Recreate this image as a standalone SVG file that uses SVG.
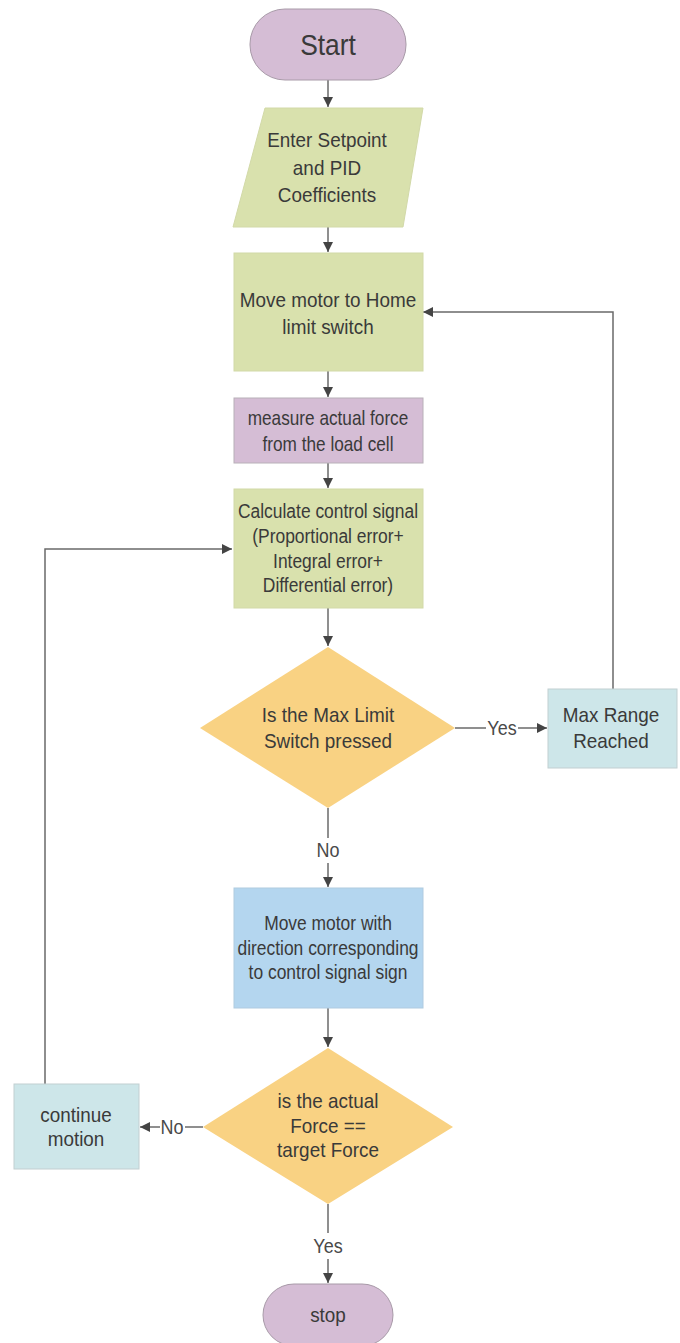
<svg xmlns="http://www.w3.org/2000/svg" width="680" height="1343" viewBox="0 0 680 1343">
  <style>
    .bg { fill: #ffffff; }
    .term { fill: #d5bdd5; stroke: #a89aa8; stroke-width: 1; }
    .proc-g { fill: #d9e1ad; stroke: #d2d9a8; stroke-width: 1; }
    .proc-p { fill: #d5bdd5; stroke: #b8b0b8; stroke-width: 1; }
    .proc-c { fill: #cde6e9; stroke: #c2cfd1; stroke-width: 1; }
    .proc-b { fill: #b4d6ef; stroke: #b0cbe0; stroke-width: 1; }
    .dec { fill: #f9d283; stroke: none; }
    .t { font-family: "Liberation Sans", Arial, sans-serif; font-size: 21px; fill: #3a3a3a; text-anchor: middle; }
    .lbl { font-family: "Liberation Sans", Arial, sans-serif; font-size: 20px; fill: #4a4a4a; text-anchor: middle; }
    .edge { fill: none; stroke: #6a6a6a; stroke-width: 1.5; }
  </style>
  <defs>
    <marker id="arrow" viewBox="0 0 10 10" refX="10" refY="5" markerWidth="10" markerHeight="10" markerUnits="userSpaceOnUse" orient="auto">
      <path d="M0,0 L10,5 L0,10 z" fill="#444444"/>
    </marker>
  </defs>
  <rect class="bg" x="0" y="0" width="680" height="1343"/>

  <!-- connectors -->
  <g id="connectors">
    <path class="edge" d="M328,80 V107" marker-end="url(#arrow)"/>
    <path class="edge" d="M328,227 V252" marker-end="url(#arrow)"/>
    <path class="edge" d="M328,371 V397" marker-end="url(#arrow)"/>
    <path class="edge" d="M328,463 V488" marker-end="url(#arrow)"/>
    <path class="edge" d="M328,608 V646" marker-end="url(#arrow)"/>
    <!-- Yes branch to Max Range -->
    <path class="edge" d="M455,728 H486"/>
    <path class="edge" d="M518,728 H547" marker-end="url(#arrow)"/>
    <!-- Max Range back to Home -->
    <path class="edge" d="M613,689 V312 H423" marker-end="url(#arrow)"/>
    <!-- No branch down -->
    <path class="edge" d="M328,808 V838"/>
    <path class="edge" d="M328,863 V887" marker-end="url(#arrow)"/>
    <path class="edge" d="M328,1008 V1047" marker-end="url(#arrow)"/>
    <!-- No branch to continue motion -->
    <path class="edge" d="M203,1127 H185"/>
    <path class="edge" d="M160,1127 H140" marker-end="url(#arrow)"/>
    <!-- continue motion back to calculate -->
    <path class="edge" d="M45,1084 V549 H232" marker-end="url(#arrow)"/>
    <!-- Yes branch to stop -->
    <path class="edge" d="M328,1204 V1233"/>
    <path class="edge" d="M328,1259 V1283" marker-end="url(#arrow)"/>
    <g transform="translate(502 0) scale(0.9 1)"><text class="lbl" x="0" y="735">Yes</text></g>
    <g transform="translate(328 0) scale(0.9 1)"><text class="lbl" x="0" y="857">No</text></g>
    <g transform="translate(172 0) scale(0.9 1)"><text class="lbl" x="0" y="1134">No</text></g>
    <g transform="translate(328 0) scale(0.9 1)"><text class="lbl" x="0" y="1253">Yes</text></g>
  </g>

  <g id="start">
    <rect class="term" x="250" y="9" width="156" height="71" rx="35" ry="35"/>
    <g transform="translate(328 0) scale(0.88 1)"><text class="t" x="0" y="55" style="font-size:30px">Start</text></g>
  </g>

  <g id="input">
    <polygon class="proc-g" points="265,108 423,108 403,227 233,227"/>
    <g transform="translate(327 0) scale(0.9 1)">
      <text class="t" x="0" y="147">Enter Setpoint</text>
      <text class="t" x="0" y="175">and PID</text>
      <text class="t" x="0" y="202">Coefficients</text>
    </g>
  </g>

  <g id="home">
    <rect class="proc-g" x="234" y="253" width="189" height="118"/>
    <g transform="translate(328 0) scale(0.9 1)">
      <text class="t" x="0" y="307">Move motor to Home</text>
      <text class="t" x="0" y="334">limit switch</text>
    </g>
  </g>

  <g id="measure">
    <rect class="proc-p" x="234" y="398" width="189" height="65"/>
    <g transform="translate(328 0) scale(0.86 1)">
      <text class="t" x="0" y="425" style="font-size:20px">measure actual force</text>
      <text class="t" x="0" y="451" style="font-size:20px">from the load cell</text>
    </g>
  </g>

  <g id="calculate">
    <rect class="proc-g" x="234" y="489" width="189" height="119"/>
    <g transform="translate(328 0) scale(0.83 1)">
      <text class="t" x="0" y="518">Calculate control signal</text>
      <text class="t" x="0" y="543">(Proportional error+</text>
      <text class="t" x="0" y="568">Integral error+</text>
      <text class="t" x="0" y="592">Differential error)</text>
    </g>
  </g>

  <g id="maxswitch">
    <polygon class="dec" points="328,647 455,728 328,808 200,728"/>
    <g transform="translate(328 0) scale(0.9 1)">
      <text class="t" x="0" y="722">Is the Max Limit</text>
      <text class="t" x="0" y="748">Switch pressed</text>
    </g>
  </g>

  <g id="maxrange">
    <rect class="proc-c" x="548" y="689" width="129" height="79"/>
    <g transform="translate(611 0) scale(0.9 1)">
      <text class="t" x="0" y="722">Max Range</text>
      <text class="t" x="0" y="748">Reached</text>
    </g>
  </g>

  <g id="move">
    <rect class="proc-b" x="234" y="888" width="189" height="120"/>
    <g transform="translate(328 0) scale(0.83 1)">
      <text class="t" x="0" y="930">Move motor with</text>
      <text class="t" x="0" y="955">direction corresponding</text>
      <text class="t" x="0" y="979">to control signal sign</text>
    </g>
  </g>

  <g id="forcecheck">
    <polygon class="dec" points="328,1048 453,1127 328,1204 203,1127"/>
    <g transform="translate(328 0) scale(0.9 1)">
      <text class="t" x="0" y="1108">is the actual</text>
      <text class="t" x="0" y="1133">Force ==</text>
      <text class="t" x="0" y="1157">target Force</text>
    </g>
  </g>

  <g id="continue">
    <rect class="proc-c" x="14" y="1084" width="125" height="85"/>
    <g transform="translate(76 0) scale(0.9 1)">
      <text class="t" x="0" y="1122">continue</text>
      <text class="t" x="0" y="1146">motion</text>
    </g>
  </g>

  <g id="stop">
    <rect class="term" x="263" y="1284" width="130" height="62" rx="31" ry="31"/>
    <g transform="translate(328 0) scale(0.9 1)"><text class="t" x="0" y="1322">stop</text></g>
  </g>
</svg>
